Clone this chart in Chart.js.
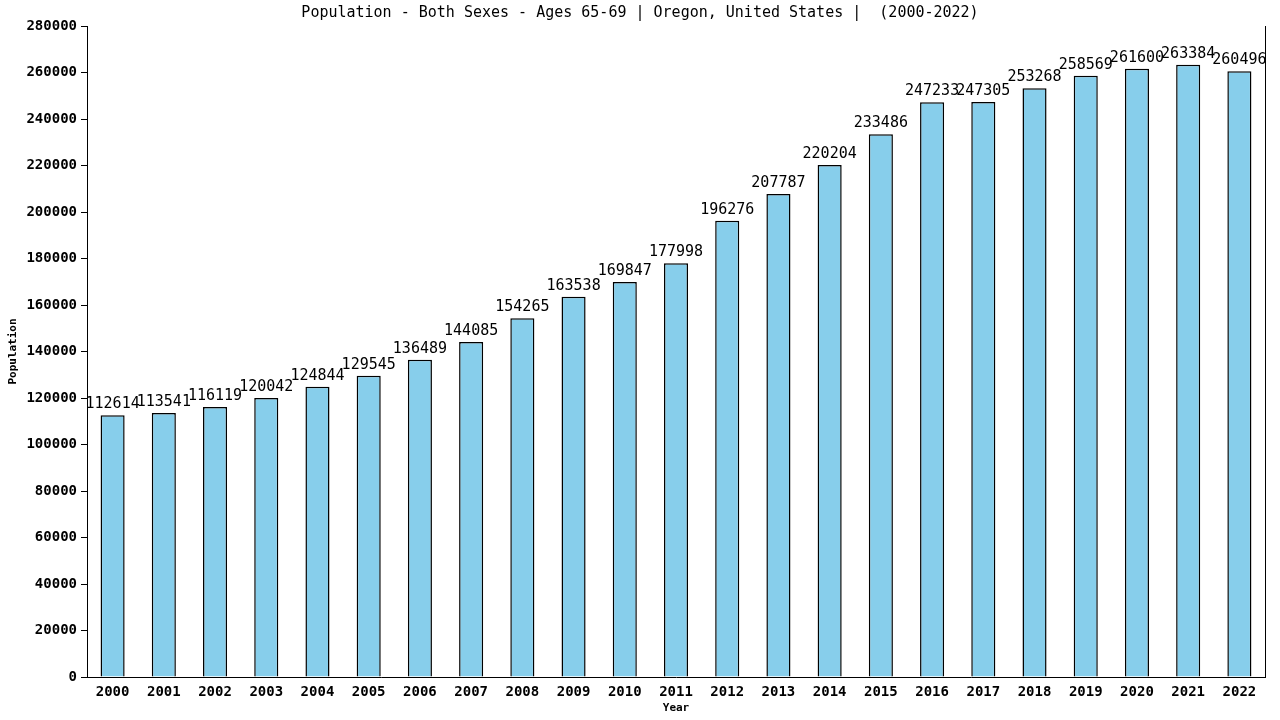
<!DOCTYPE html>
<html>
<head>
<meta charset="utf-8">
<script src="https://cdn.jsdelivr.net/npm/chart.js@4/dist/chart.umd.min.js"></script>
<style>
  html, body { margin: 0; padding: 0; background: #fff; }
  #wrap { width: 1280px; height: 720px; }
</style>
</head>
<body>
<div id="wrap"><canvas id="popChart" width="1280" height="720"></canvas></div>
<script>
// chart data
const years = ['2000', '2001', '2002', '2003', '2004', '2005', '2006', '2007', '2008', '2009', '2010', '2011',
    '2012', '2013', '2014', '2015', '2016', '2017', '2018', '2019', '2020', '2021', '2022'];
const population = [112614, 113541, 116119, 120042, 124844, 129545, 136489, 144085, 154265, 163538, 169847, 177998,
    196276, 207787, 220204, 233486, 247233, 247305, 253268, 258569, 261600, 263384, 260496];
const yMin = 0;
const yMax = 280000;
const yStep = 20000;
const chartTitle = 'Population - Both Sexes - Ages 65-69 | Oregon, United States |  (2000-2022)';

const MONO = '"DejaVu Sans Mono", "Liberation Mono", monospace';

// title drawn at a fixed spot above the plot
const titlePlugin = {
    id: 'topTitle',
    afterDraw(chart) {
        const ctx = chart.ctx;
        ctx.save();
        ctx.font = '15px ' + MONO;
        ctx.fillStyle = '#000';
        ctx.textAlign = 'center';
        ctx.textBaseline = 'middle';
        ctx.fillText(chartTitle, 640, 13);
        ctx.restore();
    }
};

// value above every bar
const valueLabels = {
    id: 'valueLabels',
    afterDatasetsDraw(chart) {
        const ctx = chart.ctx;
        const meta = chart.getDatasetMeta(0);
        ctx.save();
        ctx.font = '15px ' + MONO;
        ctx.fillStyle = '#000';
        ctx.textAlign = 'center';
        ctx.textBaseline = 'alphabetic';
        meta.data.forEach((bar, i) => {
            ctx.fillText(String(population[i]), bar.x, bar.y - 7);
        });
        ctx.restore();
    }
};

new Chart(document.getElementById('popChart'), {
    type: 'bar',
    data: {
        labels: years,
        datasets: [{
            label: 'Population',
            data: population,
            backgroundColor: '#87CEEB',
            borderColor: '#000',
            borderWidth: 1.5,
            borderSkipped: 'start',
            barPercentage: 0.47,
            categoryPercentage: 1.0
        }]
    },
    options: {
        responsive: false,
        animation: false,
        layout: { padding: { top: 26, left: 0, right: 0, bottom: 0 } },
        plugins: {
            legend: { display: false },
            tooltip: { enabled: false },
            title: { display: false }
        },
        scales: {
            x: {
                grid: { display: false },
                border: { display: true, color: '#000', width: 1 },
                ticks: {
                    color: '#000',
                    padding: -1,
                    maxRotation: 0,
                    autoSkip: false,
                    font: { family: MONO, size: 14, weight: 'bold' }
                },
                title: {
                    display: true,
                    text: 'Year',
                    color: '#000',
                    padding: { top: 0, bottom: 5 },
                    font: { family: MONO, size: 11, weight: 'bold' }
                },
                afterFit(scale) { scale.height = 43; }
            },
            y: {
                min: yMin,
                max: yMax,
                grid: {
                    display: true,
                    drawOnChartArea: false,
                    drawTicks: true,
                    tickLength: 6,
                    color: '#000'
                },
                border: { display: true, color: '#000', width: 1 },
                ticks: {
                    stepSize: yStep,
                    color: '#000',
                    padding: 4,
                    font: { family: MONO, size: 14, weight: 'bold' },
                    callback: value => String(value)
                },
                title: {
                    display: true,
                    text: 'Population',
                    color: '#000',
                    padding: { top: 7, bottom: 0 },
                    font: { family: MONO, size: 11, weight: 'bold' }
                },
                afterFit(scale) { scale.width = 87; }
            },
            yRight: {
                position: 'right',
                min: yMin,
                max: yMax,
                grid: { display: false },
                border: { display: true, color: '#000', width: 1 },
                ticks: { display: false },
                afterFit(scale) { scale.width = 15; }
            }
        }
    },
    plugins: [titlePlugin, valueLabels]
});
</script>
</body>
</html>
